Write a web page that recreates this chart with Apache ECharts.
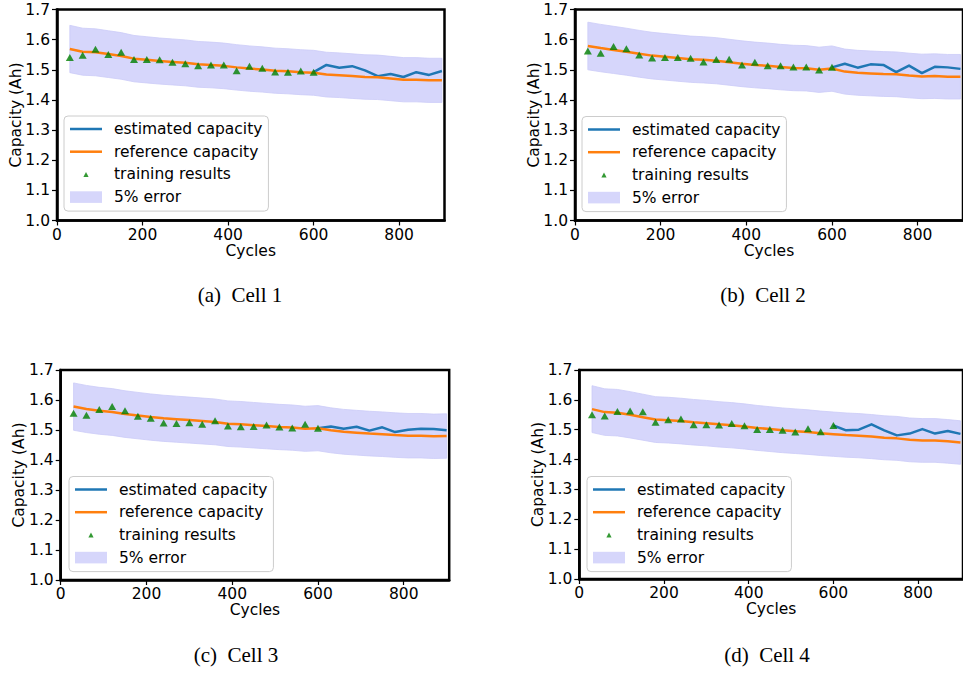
<!DOCTYPE html>
<html>
<head>
<meta charset="utf-8">
<script src="https://cdn.jsdelivr.net/npm/echarts@6/dist/echarts.min.js"></script>
<style>
html,body{margin:0;padding:0;background:#fff;}
#chart{width:963px;height:673px;}
</style>
</head>
<body>
<div id="chart"></div>
<script>
// ---------------- data ----------------
const cycles = [30,60,90,120,150,180,210,240,270,300,330,360,390,420,450,480,510,540,570,600,630,660,690,720,750,780,810,840,870,900];
const trainingCycles = [30,60,90,120,150,180,210,240,270,300,330,360,390,420,450,480,510,540,570,600];
const estimatedCycles = [600,630,660,690,720,750,780,810,840,870,900];
const xTickValues = [0,200,400,600,800];
const yTickValues = [1.0,1.1,1.2,1.3,1.4,1.5,1.6,1.7];
const errorRate = 0.05;
const legendNames = ['estimated capacity','reference capacity','training results','5% error'];
const captions = ['(a)  Cell 1','(b)  Cell 2','(c)  Cell 3','(d)  Cell 4'];

const cell1Reference = [1.569,1.560,1.558,1.552,1.546,1.537,1.533,1.529,1.526,1.523,1.518,1.516,1.513,1.508,1.504,1.501,1.497,1.495,1.492,1.490,1.484,1.482,1.479,1.476,1.475,1.471,1.467,1.467,1.465,1.465];
const cell1Training  = [1.541,1.548,1.568,1.551,1.558,1.534,1.534,1.533,1.525,1.520,1.513,1.516,1.516,1.497,1.512,1.505,1.493,1.492,1.496,1.492];
const cell1Estimated = [1.492,1.516,1.507,1.512,1.498,1.479,1.486,1.476,1.492,1.483,1.496];

const cell2Reference = [1.579,1.572,1.566,1.560,1.553,1.547,1.543,1.539,1.535,1.533,1.530,1.525,1.520,1.516,1.513,1.509,1.506,1.505,1.500,1.504,1.494,1.490,1.488,1.486,1.485,1.481,1.478,1.479,1.477,1.477];
const cell2Training  = [1.562,1.555,1.577,1.570,1.549,1.539,1.541,1.541,1.538,1.526,1.534,1.535,1.516,1.525,1.513,1.513,1.509,1.509,1.499,1.508];
const cell2Estimated = [1.508,1.520,1.507,1.518,1.516,1.492,1.514,1.489,1.510,1.508,1.503];

const cell3Reference = [1.578,1.570,1.564,1.560,1.553,1.548,1.543,1.539,1.536,1.533,1.530,1.527,1.521,1.519,1.516,1.513,1.510,1.508,1.504,1.506,1.499,1.494,1.491,1.488,1.486,1.483,1.481,1.481,1.479,1.480];
const cell3Training  = [1.556,1.549,1.568,1.578,1.564,1.546,1.539,1.523,1.522,1.524,1.519,1.531,1.513,1.511,1.512,1.517,1.510,1.507,1.519,1.506];
const cell3Estimated = [1.506,1.512,1.504,1.511,1.498,1.509,1.493,1.501,1.504,1.503,1.499];

const cell4Reference = [1.569,1.559,1.557,1.550,1.542,1.534,1.532,1.529,1.525,1.522,1.518,1.515,1.511,1.506,1.502,1.498,1.495,1.492,1.488,1.485,1.482,1.480,1.477,1.473,1.471,1.466,1.464,1.464,1.461,1.457];
const cell4Training  = [1.550,1.546,1.561,1.563,1.560,1.525,1.533,1.536,1.517,1.517,1.516,1.521,1.513,1.501,1.501,1.498,1.492,1.503,1.493,1.514];
const cell4Estimated = [1.514,1.498,1.500,1.518,1.498,1.481,1.487,1.502,1.487,1.496,1.486];

// ---------------- layout / style ----------------
const cells = [
  {ref: cell1Reference, train: cell1Training, est: cell1Estimated},
  {ref: cell2Reference, train: cell2Training, est: cell2Estimated},
  {ref: cell3Reference, train: cell3Training, est: cell3Estimated},
  {ref: cell4Reference, train: cell4Training, est: cell4Estimated}
];
const layouts = [
  {grid:{left:57,   top:9.5, width:387.5, height:211}, legend:{left:64,  top:116},   cap:{x:240, y:295}},
  {grid:{left:575,  top:9.5, width:388,   height:211}, legend:{left:582, top:116.5}, cap:{x:763, y:295}},
  {grid:{left:60.7, top:370, width:388.5, height:210}, legend:{left:69,  top:476.5}, cap:{x:236, y:655}},
  {grid:{left:579.3,top:370, width:388,   height:209}, legend:{left:587, top:476.5}, cap:{x:767, y:655}}
];
const xMax = 906;
const FONT = 'DejaVu Sans';
const FS = 15.5;
const C_EST = '#1f77b4', C_REF = '#ff7f0e', C_TRAIN = '#008000', C_BAND = '#d6d6fb', C_BAND_EDGE = '#cbcbf8';

const iconLine = 'path://M0,0M39,16M0,6.75H32V9.25H0Z';
const iconTri  = 'path://M0,0M39,16M13.4,10.6L16,5.6L18.6,10.6Z';
const iconRect = 'path://M0,0M39,16M0,2.2H32V13.8H0Z';

// band polygon drawn through the axis scales (api.coord)
function renderBand(params, api) {
  if (params.dataIndexInside !== 0) return null;
  const n = params.dataInsideLength;
  const upper = [], lower = [];
  for (let k = 0; k < n; k++) {
    const x = api.value(0, k);
    upper.push(api.coord([x, api.value(2, k)]));
    lower.push(api.coord([x, api.value(1, k)]));
  }
  return {
    type:'polygon',
    shape:{points: upper.concat(lower.reverse())},
    style:{fill:C_BAND, stroke:C_BAND_EDGE, lineWidth:0.8}
  };
}

const grids = [], xAxes = [], yAxes = [], legends = [], series = [], graphics = [];

cells.forEach((cell, i) => {
  const L = layouts[i];
  grids.push(Object.assign({show:true, borderColor:'#000', borderWidth:2.5, backgroundColor:'transparent', z:10}, L.grid));
  xAxes.push({
    type:'value', gridIndex:i, min:0, max:xMax, interval:200,
    axisLine:{show:true, lineStyle:{color:'#000', width:2.5}},
    axisTick:{show:true, inside:false, length:5, lineStyle:{color:'#000', width:1.2}, customValues:xTickValues},
    axisLabel:{color:'#000', fontSize:FS, fontFamily:FONT, margin:6, customValues:xTickValues},
    splitLine:{show:false},
    name:'Cycles', nameLocation:'middle', nameGap:22, nameMoveOverlap:false,
    nameTextStyle:{color:'#000', fontSize:FS, fontFamily:FONT}
  });
  yAxes.push({
    type:'value', gridIndex:i, min:1.0, max:1.7, interval:0.1,
    axisLine:{show:true, lineStyle:{color:'#000', width:2.5}},
    axisTick:{show:true, inside:false, length:5, lineStyle:{color:'#000', width:1.2}, customValues:yTickValues},
    axisLabel:{color:'#000', fontSize:FS, fontFamily:FONT, margin:7, customValues:yTickValues,
               formatter:v => Number(v).toFixed(1)},
    splitLine:{show:false},
    name:'Capacity (Ah)', nameLocation:'middle', nameGap:33.5, nameRotate:90, nameMoveOverlap:false,
    nameTextStyle:{color:'#000', fontSize:FS, fontFamily:FONT}
  });
  legends.push({
    orient:'vertical', left:L.legend.left, top:L.legend.top,
    padding:[5,6,6,6], itemWidth:39, itemHeight:16, itemGap:6.7,
    backgroundColor:'rgba(255,255,255,0.8)', borderColor:'#cccccc', borderWidth:1, borderRadius:4,
    selectedMode:false,
    itemStyle:{borderWidth:0},
    textStyle:{color:'#000', fontSize:FS, fontFamily:FONT, lineHeight:16},
    data:[
      {name:legendNames[0], icon:iconLine, itemStyle:{color:C_EST}},
      {name:legendNames[1], icon:iconLine, itemStyle:{color:C_REF}},
      {name:legendNames[2], icon:iconTri,  itemStyle:{color:C_TRAIN}},
      {name:legendNames[3], icon:iconRect, itemStyle:{color:C_BAND}}
    ]
  });
  // 5% error band around the reference capacity
  series.push({
    type:'custom', name:legendNames[3], xAxisIndex:i, yAxisIndex:i, z:1, silent:true,
    color:C_BAND, itemStyle:{color:C_BAND},
    renderItem:renderBand,
    encode:{x:0, y:[1,2]},
    data:cycles.map((c,k)=>[c, cell.ref[k]*(1-errorRate), cell.ref[k]*(1+errorRate)])
  });
  series.push({
    type:'line', name:legendNames[0], xAxisIndex:i, yAxisIndex:i, z:3,
    symbol:'none', color:C_EST,
    lineStyle:{width:2.5, color:C_EST, join:'round'},
    data:estimatedCycles.map((c,k)=>[c, cell.est[k]])
  });
  series.push({
    type:'line', name:legendNames[1], xAxisIndex:i, yAxisIndex:i, z:4,
    symbol:'none', color:C_REF,
    lineStyle:{width:2.5, color:C_REF, join:'round'},
    data:cycles.map((c,k)=>[c, cell.ref[k]])
  });
  series.push({
    type:'scatter', name:legendNames[2], xAxisIndex:i, yAxisIndex:i, z:5,
    symbol:'triangle', symbolSize:[8,7], color:C_TRAIN,
    itemStyle:{color:C_TRAIN},
    data:trainingCycles.map((c,k)=>[c, cell.train[k]])
  });
  graphics.push({
    type:'text', x:L.cap.x, y:L.cap.y,
    style:{text:captions[i], fill:'#000', fontSize:21, fontFamily:'Liberation Serif', align:'center', verticalAlign:'middle'}
  });
});

const chart = echarts.init(document.getElementById('chart'), null, {renderer:'svg'});
chart.setOption({
  animation:false,
  backgroundColor:'#fff',
  grid:grids, xAxis:xAxes, yAxis:yAxes, legend:legends,
  series:series, graphic:graphics
});
</script>
</body>
</html>
